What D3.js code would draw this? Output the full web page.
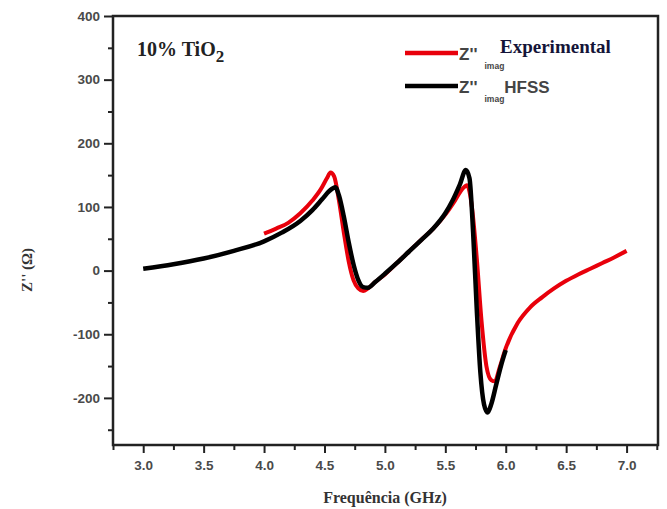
<!DOCTYPE html>
<html>
<head>
<meta charset="utf-8">
<script src="https://cdn.jsdelivr.net/npm/d3@7"></script>
<style>
  body { margin: 0; background: #fff; }
  .tick text { font-family: Arial, "Liberation Sans", sans-serif; font-weight: bold; font-size: 13.5px; fill: #4a4a4a; }
</style>
</head>
<body>
<svg id="chart"></svg>
<script>
// HFSS simulation (black)
var hfssFreq = [3.0, 3.25, 3.5, 3.75, 4.0, 4.15, 4.3, 4.4, 4.48, 4.54, 4.59, 4.62, 4.66, 4.7, 4.74, 4.78, 4.82, 4.86, 4.92, 5.0, 5.1, 5.2, 5.3, 5.4, 5.5, 5.56, 5.62, 5.67, 5.7, 5.73, 5.76, 5.79, 5.82, 5.85, 5.88, 5.92, 5.96, 6.0];
var hfssZ    = [3, 10, 19, 31, 46, 60, 78, 95, 112, 125, 131, 118, 85, 45, 10, -15, -26, -27, -18, -5, 12, 30, 48, 66, 90, 110, 135, 158, 145, 60, -60, -160, -210, -223, -210, -180, -150, -125];

// Experimental (red)
var expFreq = [4.0, 4.1, 4.2, 4.3, 4.4, 4.47, 4.52, 4.55, 4.58, 4.62, 4.66, 4.7, 4.74, 4.78, 4.82, 4.86, 4.92, 5.0, 5.1, 5.2, 5.3, 5.4, 5.5, 5.58, 5.64, 5.68, 5.72, 5.76, 5.8, 5.84, 5.88, 5.91, 5.95, 6.0, 6.1, 6.2, 6.3, 6.4, 6.5, 6.6, 6.7, 6.8, 6.9, 7.0];
var expZ    = [58, 66, 75, 90, 110, 128, 145, 154, 148, 110, 60, 15, -15, -28, -32, -28, -18, -6, 12, 30, 48, 66, 88, 110, 128, 134, 100, 20, -80, -150, -172, -174, -152, -122, -82, -58, -42, -28, -16, -6, 3, 12, 21, 31];

var xTicks = [3.0, 3.5, 4.0, 4.5, 5.0, 5.5, 6.0, 6.5, 7.0];
var yTicks = [-200, -100, 0, 100, 200, 300, 400];

var width = 667, height = 509;
var margin = {left: 113, top: 16, right: 9, bottom: 64};

var svg = d3.select("#chart")
  .attr("width", width)
  .attr("height", height);

var x = d3.scaleLinear()
  .domain([2.75, 7.26])
  .range([margin.left, width - margin.right]);

var y = d3.scaleLinear()
  .domain([-274, 400])
  .range([height - margin.bottom, margin.top]);

// minor ticks
var xMinor = d3.range(2.75, 7.26, 0.25).filter(function(d){ return Math.abs(d*2 - Math.round(d*2)) > 0.01 });
var yMinor = d3.range(-250, 400, 100);

svg.append("g")
  .attr("transform", "translate(0," + (height - margin.bottom) + ")")
  .call(d3.axisBottom(x).tickValues(xMinor).tickSize(5).tickFormat(""))
  .call(function(g){ g.select(".domain").remove() })
  .selectAll("line").attr("stroke", "#222").attr("stroke-width", 2);

svg.append("g")
  .attr("transform", "translate(" + margin.left + ",0)")
  .call(d3.axisLeft(y).tickValues(yMinor).tickSize(5).tickFormat(""))
  .call(function(g){ g.select(".domain").remove() })
  .selectAll("line").attr("stroke", "#222").attr("stroke-width", 2);

var xAxis = svg.append("g")
  .attr("transform", "translate(0," + (height - margin.bottom) + ")")
  .call(d3.axisBottom(x).tickValues(xTicks).tickSize(8).tickPadding(7).tickFormat(function(d){ return d.toFixed(1) }));
xAxis.select(".domain").remove();
xAxis.selectAll("line").attr("stroke", "#222").attr("stroke-width", 2);

var yAxis = svg.append("g")
  .attr("transform", "translate(" + margin.left + ",0)")
  .call(d3.axisLeft(y).tickValues(yTicks).tickSize(9).tickPadding(4).tickFormat(function(d){ return String(d) }));
yAxis.select(".domain").remove();
yAxis.selectAll("line").attr("stroke", "#222").attr("stroke-width", 2);

// frame
svg.append("rect")
  .attr("x", margin.left)
  .attr("y", margin.top)
  .attr("width", width - margin.left - margin.right)
  .attr("height", height - margin.top - margin.bottom)
  .attr("fill", "none")
  .attr("stroke", "#222")
  .attr("stroke-width", 2.5);

var line = d3.line()
  .x(function(d){ return x(d[0]) })
  .y(function(d){ return y(d[1]) })
  .curve(d3.curveMonotoneX);

svg.append("path")
  .datum(d3.zip(expFreq, expZ))
  .attr("d", line)
  .attr("fill", "none")
  .attr("stroke", "#e8000b")
  .attr("stroke-width", 4)
  .attr("stroke-linejoin", "round");

svg.append("path")
  .datum(d3.zip(hfssFreq, hfssZ))
  .attr("d", line)
  .attr("fill", "none")
  .attr("stroke", "#000")
  .attr("stroke-width", 4.5)
  .attr("stroke-linejoin", "round");

// sample label
var lab = svg.append("text")
  .attr("x", 137)
  .attr("y", 56)
  .attr("font-family", "'Liberation Serif', 'DejaVu Serif', serif")
  .attr("font-weight", "bold")
  .attr("font-size", 20)
  .attr("fill", "#222");
lab.append("tspan").text("10% TiO");
lab.append("tspan").attr("dy", 6).attr("font-size", 17).text("2");

// legend
var legend = [
  {color: "#e8000b", y: 53, name: ""},
  {color: "#000", y: 86, name: "HFSS"}
];
svg.selectAll("legline")
  .data(legend)
  .enter()
  .append("line")
  .attr("x1", 405).attr("x2", 458)
  .attr("y1", function(d){ return d.y }).attr("y2", function(d){ return d.y })
  .attr("stroke", function(d){ return d.color })
  .attr("stroke-width", 4.5);

var lt = svg.selectAll("legtext")
  .data(legend)
  .enter()
  .append("text")
  .attr("x", 459)
  .attr("y", function(d){ return d.y + 7 })
  .attr("font-family", "Arial, 'Liberation Sans', sans-serif")
  .attr("font-weight", "bold")
  .attr("font-size", 17)
  .attr("fill", "#444");
lt.append("tspan").text("Z''");
lt.append("tspan").attr("dx", 7).attr("dy", 9).attr("font-size", 8.5).text("imag");
lt.append("tspan").attr("dy", -9).attr("font-size", 17).text(function(d){ return d.name });

svg.append("text")
  .attr("x", 500)
  .attr("y", 53)
  .attr("font-family", "'Liberation Serif', 'DejaVu Serif', serif")
  .attr("font-weight", "bold")
  .attr("font-size", 19)
  .attr("fill", "#141438")
  .text("Experimental");

// axis titles
svg.append("text")
  .attr("transform", "translate(32,270) rotate(-90)")
  .attr("text-anchor", "middle")
  .attr("font-family", "'Liberation Serif', 'DejaVu Serif', serif")
  .attr("font-weight", "bold")
  .attr("font-size", 15)
  .attr("fill", "#333")
  .text("Z'' (Ω)");

svg.append("text")
  .attr("x", 385)
  .attr("y", 503)
  .attr("text-anchor", "middle")
  .attr("font-family", "'Liberation Serif', 'DejaVu Serif', serif")
  .attr("font-weight", "bold")
  .attr("font-size", 16)
  .attr("fill", "#333")
  .text("Frequência (GHz)");
</script>
</body>
</html>
